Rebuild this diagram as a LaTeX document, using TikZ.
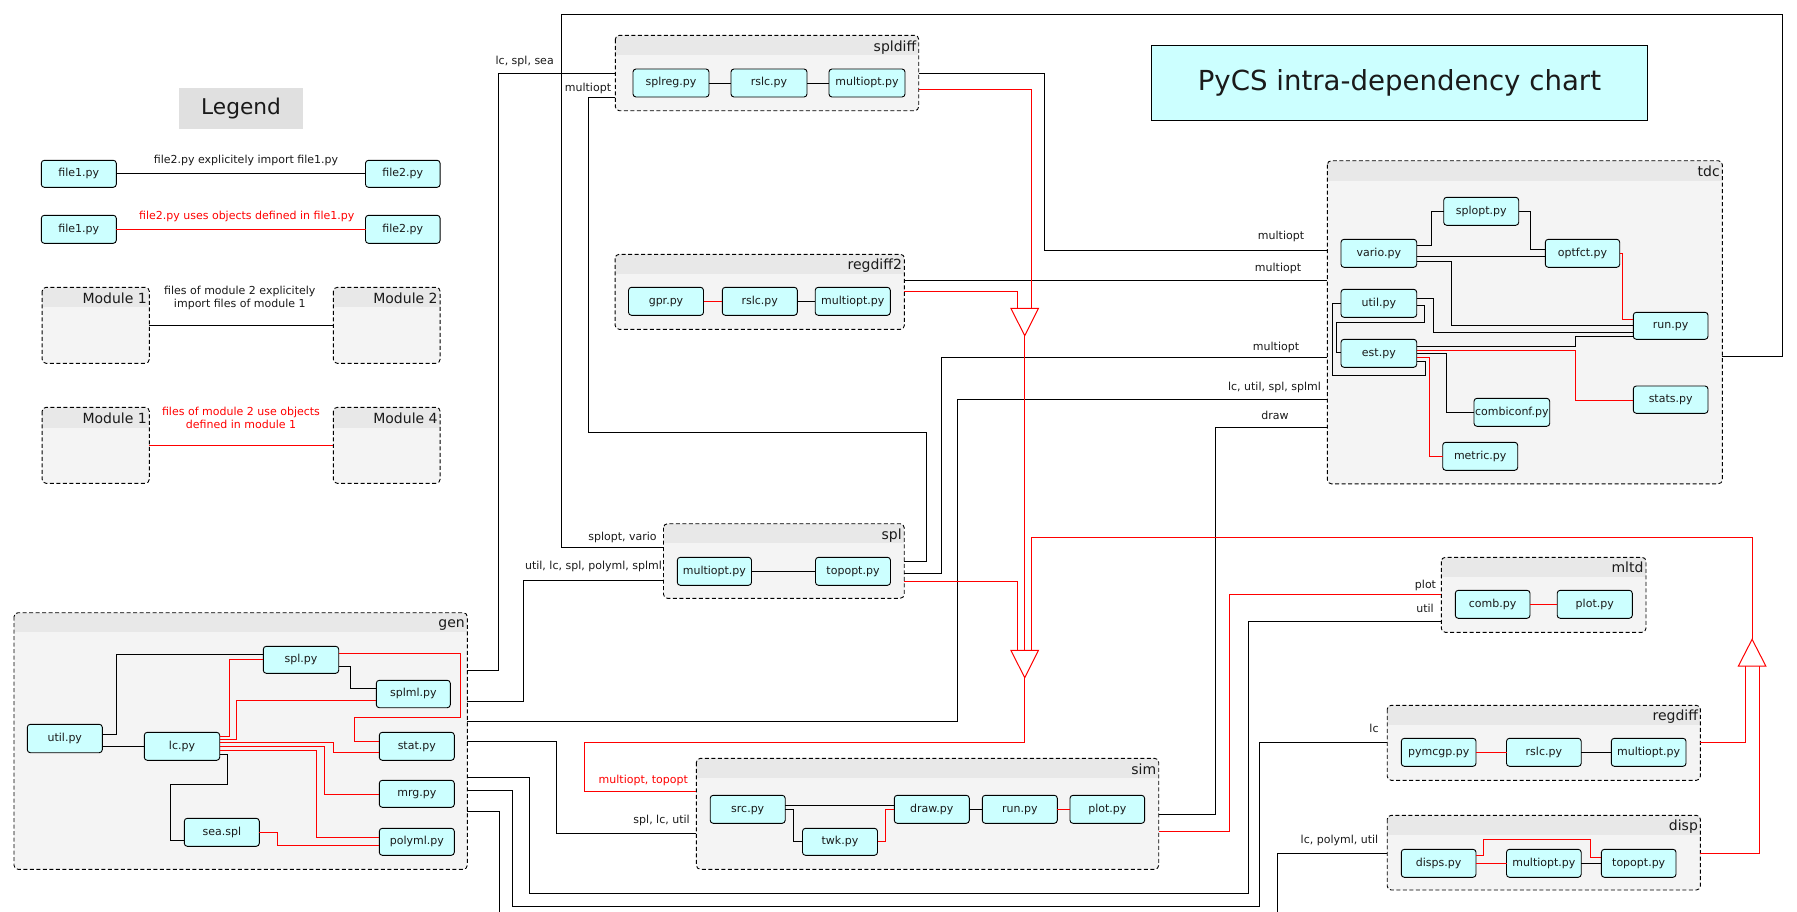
\documentclass[tikz,border=0pt]{standalone}
\usepackage{fontspec}
\setmainfont{DejaVu Sans}
\usetikzlibrary{calc}
\definecolor{cyanfill}{HTML}{CCFFFF}
\definecolor{modfill}{HTML}{F4F4F4}
\definecolor{hdrfill}{HTML}{E8E8E8}
\definecolor{legfill}{HTML}{E0E0E0}
\definecolor{myred}{HTML}{FF0000}
\definecolor{txt}{HTML}{1A1A1A}
\newcommand\fs{\fontsize{11}{12.6}\selectfont}
\newcommand\fmod{\fontsize{14}{16}\selectfont}
\newcommand\myfile[6]{\node[filebox, minimum width={#4-#2}, minimum height={#5-#3}] (#1) at ({(#2+#4)/2},{(#3+#5)/2}) {#6};}
\newcommand\mymod[7]{%
  \node[modbody, minimum width={#4-#2}, minimum height={#5-#3}, anchor=north west] (#1) at (#2,#3) {};
  \begin{scope}
    \clip[rounded corners=4pt] (#1.north west) rectangle (#1.south east);
    \fill[hdrfill] (#1.north west) rectangle (#4,#6);
  \end{scope}
  \draw[modborder] (#1.north west) rectangle (#1.south east);
  \node[modtitle] (#1-title) at (#4,{#6-4.3}) {#7};
}
\begin{document}
\begin{tikzpicture}[x=1pt,y=-1pt,
  depl/.style={draw=black, line width=1pt},
  usel/.style={draw=myred, line width=1pt},
  filebox/.style={draw=black, line width=0.9pt, fill=cyanfill, rounded corners=3pt, inner sep=0pt, outer sep=0pt, font=\fs, text=txt, text height=8.4pt, text depth=2.6pt},
  modbody/.style={rectangle, fill=modfill, rounded corners=4pt, inner sep=0pt, outer sep=0pt},
  modborder/.style={draw=black, line width=0.9pt, dash pattern=on 4pt off 2.5pt, rounded corners=4pt},
  modtitle/.style={anchor=base east, inner xsep=2.3pt, inner ysep=0pt, font=\fmod, text=txt},
  lbl/.style={inner sep=0pt, font=\fs, text=txt, text height=8.4pt, text depth=2.6pt},
  rlbl/.style={lbl, text=myred},
  mlbl/.style={inner sep=0pt, font=\fs, text=txt, align=center},
  rmlbl/.style={mlbl, text=myred},
  trihead/.style={draw=myred, line width=1pt, fill=white}
]
\useasboundingbox (0,0) rectangle (1797,911);
\fill[white] (0,0) rectangle (1797,911);
\clip (0,0) rectangle (1797,911);

% ---------- title and legend ----------
\node[draw=black, line width=1pt, fill=cyanfill, minimum width=495.9, minimum height=75, inner sep=0pt,
      font=\fontsize{27.6}{32}\selectfont, text=txt] (title) at (1399.45,82.8) {PyCS intra-dependency chart};
\node[fill=legfill, minimum width=124, minimum height=40.7, inner sep=0pt,
      font=\fontsize{21.7}{26}\selectfont, text=txt] (legend) at (241.1,108.35) {Legend};

\myfile{lf1a}{41.3}{160.3}{116.3}{187.3}{file1.py}
\myfile{lf2a}{365.5}{160.3}{440.1}{187.3}{file2.py}
\myfile{lf1b}{41.3}{215.3}{116.3}{243.3}{file1.py}
\myfile{lf2b}{365.5}{215.3}{440.1}{243.3}{file2.py}
\mymod{lm1}{42.1}{287.3}{149.3}{363.3}{307.3}{Module 1}
\mymod{lm2}{333.3}{287.3}{440.1}{363.3}{307.3}{Module 2}
\mymod{lm3}{42.1}{407.3}{149.3}{483.3}{427.7}{Module 1}
\mymod{lm4}{333.3}{407.3}{440.1}{483.3}{427.7}{Module 4}

\draw[depl] (lf1a) -- (lf2a);
\draw[usel] (lf1b) -- (lf2b);
\draw[depl] (lm1.east |- 0,325.3) -- (lm2.west |- 0,325.3);
\draw[usel] (lm3.east |- 0,445.3) -- (lm4.west |- 0,445.3);
\node[lbl] (ll1) at (246,161) {file2.py explicitely import file1.py};
\node[rlbl] (ll2) at (246.7,216.7) {file2.py uses objects defined in file1.py};
\node[mlbl] (ll3) at (239.8,298) {files of module 2 explicitely\\import files of module 1};
\node[rmlbl] (ll4) at (241,418) {files of module 2 use objects\\defined in module 1};

% ---------- modules ----------
\mymod{spldiff}{615.3}{35.3}{918.7}{110.7}{55.3}{spldiff}
\mymod{regdiff2}{615.1}{254.3}{904.4}{329.3}{274}{regdiff2}
\mymod{tdc}{1327.3}{160.7}{1722.3}{483.8}{180.7}{tdc}
\mymod{spl}{663.5}{523.7}{904.2}{598.3}{543.3}{spl}
\mymod{mltd}{1441.3}{557.3}{1646}{632.3}{577}{mltd}
\mymod{gen}{14}{612.7}{467.3}{869.3}{632}{gen}
\mymod{regdiff}{1387.2}{705.3}{1700.4}{780.3}{725}{regdiff}
\mymod{sim}{696.4}{758.3}{1158.7}{869.3}{778.3}{sim}
\mymod{disp}{1387.2}{815.3}{1700.4}{890}{835}{disp}

% ---------- files ----------
\myfile{sd-splreg}{633}{69}{709}{97}{splreg.py}
\myfile{sd-rslc}{731}{69}{807}{97}{rslc.py}
\myfile{sd-multiopt}{829}{69}{905}{97}{multiopt.py}
\myfile{r2-gpr}{628.5}{287.3}{703.5}{315.3}{gpr.py}
\myfile{r2-rslc}{722.3}{287.3}{797.3}{315.3}{rslc.py}
\myfile{r2-multiopt}{815.2}{287.3}{890.3}{315.3}{multiopt.py}
\myfile{splopt}{1443.7}{197.3}{1518.7}{225.3}{splopt.py}
\myfile{vario}{1341}{239.3}{1416.7}{267.3}{vario.py}
\myfile{optfct}{1545.3}{239.3}{1619.7}{267.3}{optfct.py}
\myfile{util}{1341}{289.3}{1416.7}{317.3}{util.py}
\myfile{run}{1633.3}{312.3}{1708}{339.3}{run.py}
\myfile{est}{1341}{339.3}{1416.7}{367.3}{est.py}
\myfile{stats}{1633.3}{386}{1708}{413.3}{stats.py}
\myfile{combiconf}{1474}{398.3}{1549.7}{426.3}{combiconf.py}
\myfile{metric}{1442.7}{442.3}{1517.7}{470.3}{metric.py}
\myfile{s-multiopt}{677.3}{557.3}{751.5}{585.3}{multiopt.py}
\myfile{s-topopt}{815.5}{557.3}{890.5}{585.3}{topopt.py}
\myfile{m-comb}{1455.3}{590.3}{1530}{618.3}{comb.py}
\myfile{m-plot}{1557.2}{590.3}{1632.3}{618.3}{plot.py}
\myfile{g-spl}{263.3}{646.3}{338.7}{673.3}{spl.py}
\myfile{g-splml}{376.3}{680.3}{450.3}{707.7}{splml.py}
\myfile{g-util}{27.3}{724.3}{102.3}{752.7}{util.py}
\myfile{g-lc}{144.3}{732.3}{219.7}{760.3}{lc.py}
\myfile{g-stat}{379.3}{732.3}{454.3}{760.3}{stat.py}
\myfile{g-mrg}{379.3}{780.3}{454.3}{807.3}{mrg.py}
\myfile{g-sea}{184.3}{818.3}{259.3}{846.3}{sea.spl}
\myfile{g-polyml}{379.3}{828.3}{454.3}{855.3}{polyml.py}
\myfile{rd-pymcgp}{1401.3}{738.3}{1476}{766.3}{pymcgp.py}
\myfile{rd-rslc}{1506.5}{738.3}{1581.2}{766.3}{rslc.py}
\myfile{rd-multiopt}{1611.3}{738.3}{1686}{766.3}{multiopt.py}
\myfile{sm-src}{710.2}{795.3}{785.2}{823.3}{src.py}
\myfile{sm-twk}{802.5}{828.3}{877.5}{855.3}{twk.py}
\myfile{sm-draw}{894.3}{795.3}{969.3}{823.3}{draw.py}
\myfile{sm-run}{982.3}{795.3}{1057.3}{823.3}{run.py}
\myfile{sm-plot}{1070}{795.3}{1144.6}{823.3}{plot.py}
\myfile{d-disps}{1401.3}{849.3}{1476}{877.3}{disps.py}
\myfile{d-multiopt}{1506.5}{849.3}{1581.2}{877.3}{multiopt.py}
\myfile{d-topopt}{1601.4}{849.3}{1676}{877.3}{topopt.py}

% ---------- connectors inside modules ----------
\draw[depl] (sd-splreg) -- (sd-rslc);
\draw[depl] (sd-rslc) -- (sd-multiopt);
\draw[usel] (r2-gpr) -- (r2-rslc);
\draw[depl] (r2-rslc) -- (r2-multiopt);
\draw[depl] (s-multiopt) -- (s-topopt);
\draw[usel] (m-comb) -- (m-plot);
\draw[usel] (rd-pymcgp) -- (rd-rslc);
\draw[depl] (rd-rslc) -- (rd-multiopt);
\draw[usel] (d-disps) -- (d-multiopt);
\draw[depl] (d-multiopt) -- (d-topopt);
\draw[usel] (d-disps.east |- 0,855.3) -- (1483.8,855.3) -- (1483.8,839.3) -- (1590.2,839.3) -- (1590.2,857) -- (d-topopt.west |- 0,857);
% sim
\draw[depl] (sm-src.east |- 0,805.3) -- (sm-draw.west |- 0,805.3);
\draw[depl] (sm-src.east |- 0,809.3) -- (793.3,809.3) -- (793.3,841.3) -- (sm-twk.west |- 0,841.3);
\draw[usel] (sm-twk.east |- 0,841.3) -- (885.1,841.3) -- (885.1,809.3) -- (sm-draw.west |- 0,809.3);
\draw[depl] (sm-draw) -- (sm-run);
\draw[usel] (sm-run) -- (sm-plot);
% tdc
\draw[depl] (vario.east |- 0,245.7) -- (1431.3,245.7) -- (1431.3,211.3) -- (splopt.west |- 0,211.3);
\draw[depl] (splopt.east |- 0,211.3) -- (1530.3,211.3) -- (1530.3,249.7) -- (optfct.west |- 0,249.7);
\draw[depl] (vario.east |- 0,256.7) -- (optfct.west |- 0,256.7);
\draw[depl] (vario.east |- 0,261.7) -- (1451.5,261.7) -- (1451.5,325) -- (run.west |- 0,325);
\draw[usel] (optfct.east |- 0,253.7) -- (1622.2,253.7) -- (1622.2,319.3) -- (run.west |- 0,319.3);
\draw[depl] (util.east |- 0,298.3) -- (1433.3,298.3) -- (1433.3,332.3) -- (run.west |- 0,332.3);
\draw[depl] (util.east |- 0,305) -- (1424.3,305) -- (1424.3,322.3) -- (1336,322.3) -- (1336,352.7) -- (est.west |- 0,352.7);
\draw[depl] (util.west |- 0,303.3) -- (1332.3,303.3) -- (1332.3,375) -- (1425.3,375) -- (1425.3,361) -- (est.east |- 0,361);
\draw[depl] (est.east |- 0,346) -- (1575.3,346) -- (1575.3,336) -- (run.west |- 0,336);
\draw[usel] (est.east |- 0,350.3) -- (1575.3,350.3) -- (1575.3,400) -- (stats.west |- 0,400);
\draw[depl] (est.east |- 0,353.3) -- (1446.3,353.3) -- (1446.3,412.3) -- (combiconf.west |- 0,412.3);
\draw[usel] (est.east |- 0,357.3) -- (1429.3,357.3) -- (1429.3,456) -- (metric.west |- 0,456);
% gen
\draw[depl] (g-util.east |- 0,734.3) -- (116.3,734.3) -- (116.3,654.3) -- (g-spl.west |- 0,654.3);
\draw[depl] (g-util.east |- 0,746) -- (g-lc.west |- 0,746);
\draw[usel] (g-lc.east |- 0,736.3) -- (229.3,736.3) -- (229.3,659.3) -- (g-spl.west |- 0,659.3);
\draw[usel] (g-lc.east |- 0,739.3) -- (236.3,739.3) -- (236.3,700) -- (g-splml.west |- 0,700);
\draw[usel] (g-lc.east |- 0,742.3) -- (333.3,742.3) -- (333.3,752.3) -- (g-stat.west |- 0,752.3);
\draw[usel] (g-lc.east |- 0,746.3) -- (324.3,746.3) -- (324.3,794) -- (g-mrg.west |- 0,794);
\draw[usel] (g-lc.east |- 0,750.3) -- (316.3,750.3) -- (316.3,837.7) -- (g-polyml.west |- 0,837.7);
\draw[depl] (g-lc.east |- 0,754.3) -- (227.3,754.3) -- (227.3,784) -- (170.3,784) -- (170.3,840) -- (g-sea.west |- 0,840);
\draw[usel] (g-spl.east |- 0,653.3) -- (460.3,653.3) -- (460.3,717.3) -- (354.3,717.3) -- (354.3,741.3) -- (g-stat.west |- 0,741.3);
\draw[depl] (g-spl.east |- 0,666.7) -- (350.3,666.7) -- (350.3,688.7) -- (g-splml.west |- 0,688.7);
\draw[usel] (g-sea.east |- 0,832.3) -- (277.3,832.3) -- (277.3,845.3) -- (g-polyml.west |- 0,845.3);

% ---------- connectors between modules ----------
\draw[depl] (gen.east |- 0,670.3) -- (498.7,670.3) -- (498.7,73.3) -- (spldiff.west |- 0,73.3);
\node[lbl] (lab-lcsplsea) at (524.7,62) {lc, spl, sea};
\draw[depl] (spldiff.west |- 0,97.3) -- (588.5,97.3) -- (588.5,432.3) -- (926.5,432.3) -- (926.5,561.3) -- (spl.east |- 0,561.3);
\node[lbl] (lab-mo0) at (588,88.7) {multiopt};
\draw[depl] (tdc.east |- 0,356) -- (1782.2,356) -- (1782.2,14.7) -- (561.3,14.7) -- (561.3,547.3) -- (spl.west |- 0,547.3);
\node[lbl] (lab-splopt) at (622.5,538) {splopt, vario};
\draw[depl] (gen.east |- 0,701.3) -- (523.2,701.3) -- (523.2,580.3) -- (spl.west |- 0,580.3);
\node[lbl] (lab-util5) at (593.5,566.3) {util, lc, spl, polyml, splml};
\draw[depl] (spldiff.east |- 0,73.3) -- (1044.5,73.3) -- (1044.5,250) -- (tdc.west |- 0,250);
\node[lbl] (lab-mo1) at (1281,236.3) {multiopt};
\draw[depl] (regdiff2.east |- 0,280.3) -- (tdc.west |- 0,280.3);
\node[lbl] (lab-mo2) at (1278,268.7) {multiopt};
\draw[depl] (spl.east |- 0,573.3) -- (941.8,573.3) -- (941.8,357.5) -- (tdc.west |- 0,357.5);
\node[lbl] (lab-mo3) at (1276,347.7) {multiopt};
\draw[depl] (gen.east |- 0,721) -- (957.8,721) -- (957.8,399.2) -- (tdc.west |- 0,399.2);
\node[lbl] (lab-lcutil) at (1274.5,388) {lc, util, spl, splml};
\draw[depl] (sim.east |- 0,814) -- (1215.8,814) -- (1215.8,427.8) -- (tdc.west |- 0,427.8);
\node[lbl] (lab-draw) at (1275,416.7) {draw};
\draw[depl] (gen.east |- 0,741.3) -- (556.2,741.3) -- (556.2,833.3) -- (sim.west |- 0,833.3);
\node[lbl] (lab-spllc) at (661.6,820.3) {spl, lc, util};
\draw[usel] (sim.east |- 0,831.3) -- (1229.2,831.3) -- (1229.2,594.3) -- (mltd.west |- 0,594.3);
\node[lbl] (lab-plot) at (1425.5,586) {plot};
\draw[depl] (gen.east |- 0,777.3) -- (529.4,777.3) -- (529.4,893.3) -- (1248.6,893.3) -- (1248.6,621.3) -- (mltd.west |- 0,621.3);
\node[lbl] (lab-util) at (1425,610) {util};
\draw[depl] (gen.east |- 0,790.3) -- (512.5,790.3) -- (512.5,906.3) -- (1259.3,906.3) -- (1259.3,742.3) -- (regdiff.west |- 0,742.3);
\node[lbl] (lab-lc) at (1374,730) {lc};
\draw[depl] (gen.east |- 0,811.3) -- (499,811.3) -- (499,930) -- (1277.5,930) -- (1277.5,853) -- (disp.west |- 0,853);
\node[lbl] (lab-lcpoly) at (1339.5,840.3) {lc, polyml, util};

% ---------- red merged connectors ----------
\coordinate (t1) at (1024.7,308.3); \coordinate (t1a) at (1024.7,335.7);
\coordinate (t2) at (1024.7,650.3); \coordinate (t2a) at (1024.7,677.7);
\coordinate (t3) at (1752.1,666);   \coordinate (t3a) at (1752.1,639.3);
\draw[usel] (spldiff.east |- 0,89.3) -- (1031.3,89.3) -- (t1 -| 1031.3,0);
\draw[usel] (regdiff2.east |- 0,291.7) -- (1017.3,291.7) -- (t1 -| 1017.3,0);
\draw[usel] (t1a) -- (t2);
\draw[usel] (spl.east |- 0,581.3) -- (1017.3,581.3) -- (t2 -| 1017.3,0);
\draw[usel] (t3a) -- (t3a |- 0,537.7) -- (1031.3,537.7) -- (t2 -| 1031.3,0);
\draw[usel] (regdiff.east |- 0,742.3) -- (1745.3,742.3) -- (t3 -| 1745.3,0);
\draw[usel] (disp.east |- 0,853) -- (1759.3,853) -- (t3 -| 1759.3,0);
\draw[usel] (t2a) -- (t2a |- 0,742.3) -- (584.3,742.3) -- (584.3,791.3) -- (sim.west |- 0,791.3);
\node[rlbl] (lab-motop) at (643.3,780.3) {multiopt, topopt};
\filldraw[trihead] ($(t1)+(-13.8,0)$) -- ($(t1)+(13.8,0)$) -- (t1a) -- cycle;
\filldraw[trihead] ($(t2)+(-13.8,0)$) -- ($(t2)+(13.8,0)$) -- (t2a) -- cycle;
\filldraw[trihead] ($(t3)+(-13.7,0)$) -- ($(t3)+(13.7,0)$) -- (t3a) -- cycle;
\end{tikzpicture}
\end{document}
